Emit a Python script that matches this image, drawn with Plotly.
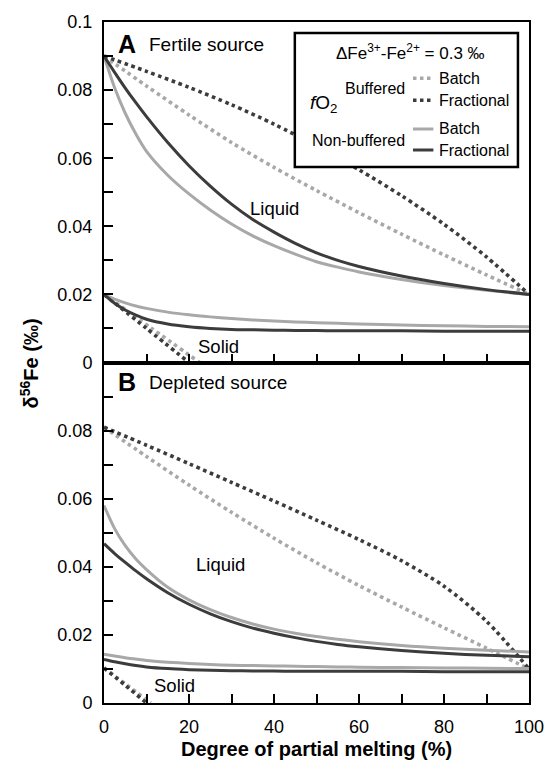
import plotly.graph_objects as go
from plotly.subplots import make_subplots

# ---------------- data ----------------
melt_fine = [0, 2.5, 5, 7.5, 10, 15, 20, 25, 30, 35, 40, 45, 50, 55, 60, 70, 80, 90, 100]
melt_coarse = [0, 10, 20, 30, 40, 50, 60, 70, 80, 90, 100]

# Panel A - fertile source
a_liq_nb_batch = [0.0900, 0.0807, 0.0732, 0.0671, 0.0620, 0.0550, 0.0495, 0.0448, 0.0407, 0.0372,
                  0.0343, 0.0318, 0.0296, 0.0280, 0.0266, 0.0244, 0.0226, 0.0212, 0.0200]
a_liq_nb_frac = [0.0900, 0.0852, 0.0806, 0.0763, 0.0722, 0.0646, 0.0578, 0.0518, 0.0465, 0.0420,
                 0.0383, 0.0350, 0.0322, 0.0300, 0.0282, 0.0254, 0.0232, 0.0214, 0.0200]
a_liq_b_batch = [0.0900, 0.0812, 0.0727, 0.0646, 0.0573, 0.0505, 0.0440, 0.0377, 0.0316, 0.0257, 0.0200]
a_liq_b_frac = [0.0900, 0.0855, 0.0808, 0.0757, 0.0700, 0.0636, 0.0566, 0.0490, 0.0406, 0.0310, 0.0200]
a_sol_nb_batch = [0.0200, 0.0186, 0.0175, 0.0166, 0.0159, 0.0148, 0.0140, 0.0134, 0.0129, 0.0125,
                  0.0122, 0.0119, 0.0117, 0.0115, 0.0113, 0.0110, 0.0108, 0.0106, 0.0105]
a_sol_nb_frac = [0.0200, 0.0174, 0.0154, 0.0139, 0.0127, 0.0113, 0.0105, 0.0100, 0.0097, 0.0096,
                 0.0095, 0.0094, 0.0094, 0.0093, 0.0093, 0.0093, 0.0092, 0.0092, 0.0092]
a_sol_b_batch_x = [0, 11, 22.5]
a_sol_b_batch = [0.0200, 0.0102, 0.0]
a_sol_b_frac_x = [0, 10, 20]
a_sol_b_frac = [0.0200, 0.0100, 0.0]

# Panel B - depleted source
b_liq_nb_batch = [0.0580, 0.0512, 0.0462, 0.0423, 0.0392, 0.0340, 0.0303, 0.0274, 0.0251, 0.0232,
                  0.0217, 0.0205, 0.0195, 0.0187, 0.0180, 0.0169, 0.0161, 0.0155, 0.0150]
b_liq_nb_frac = [0.0468, 0.0439, 0.0413, 0.0388, 0.0365, 0.0324, 0.0290, 0.0262, 0.0239, 0.0220,
                 0.0205, 0.0192, 0.0181, 0.0172, 0.0165, 0.0154, 0.0146, 0.0140, 0.0136]
b_liq_b_batch = [0.0810, 0.0724, 0.0640, 0.0560, 0.0484, 0.0412, 0.0345, 0.0282, 0.0221, 0.0161, 0.0100]
b_liq_b_frac = [0.0810, 0.0757, 0.0703, 0.0648, 0.0593, 0.0537, 0.0480, 0.0418, 0.0343, 0.0240, 0.0100]
b_sol_nb_batch = [0.0143, 0.0138, 0.0133, 0.0129, 0.0125, 0.0120, 0.0116, 0.0113, 0.0111, 0.0110,
                  0.0109, 0.0108, 0.0107, 0.0106, 0.0105, 0.0104, 0.0103, 0.0102, 0.0101]
b_sol_nb_frac = [0.0128, 0.0121, 0.0115, 0.0110, 0.0106, 0.0101, 0.0098, 0.0096, 0.0095, 0.0094,
                 0.0094, 0.0093, 0.0093, 0.0093, 0.0093, 0.0093, 0.0092, 0.0092, 0.0092]
b_sol_b_batch_x = [0, 5.5, 11]
b_sol_b_batch = [0.0103, 0.0052, 0.0]
b_sol_b_frac_x = [0, 5, 10]
b_sol_b_frac = [0.0103, 0.0052, 0.0]

y_tickvals = [0, 0.01, 0.02, 0.03, 0.04, 0.05, 0.06, 0.07, 0.08, 0.09, 0.1]
y_ticktext_a = ["0", "", "0.02", "", "0.04", "", "0.06", "", "0.08", "", "0.1"]
y_ticktext_b = ["0", "", "0.02", "", "0.04", "", "0.06", "", "0.08", "", ""]
x_tickvals = [0, 10, 20, 30, 40, 50, 60, 70, 80, 90, 100]
x_ticktext = ["0", "", "20", "", "40", "", "60", "", "80", "", "100"]

LIGHT = "#a8a8a8"
DARK = "#3c3c3c"
FONT = "Liberation Sans, Arial, Helvetica, sans-serif"

fig = make_subplots(rows=2, cols=1, shared_xaxes=False, vertical_spacing=0)


def add(x, y, color, dotted, row):
    fig.add_trace(
        go.Scatter(
            x=x, y=y, mode="lines",
            line=dict(color=color, width=3.6 if dotted else 3.0,
                      dash="dot" if dotted else "solid",
                      shape="spline", smoothing=0.8),
            showlegend=False, hoverinfo="skip",
        ),
        row=row, col=1,
    )


# Panel A
add(melt_coarse, a_liq_b_batch, LIGHT, True, 1)
add(melt_coarse, a_liq_b_frac, DARK, True, 1)
add(a_sol_b_batch_x, a_sol_b_batch, LIGHT, True, 1)
add(a_sol_b_frac_x, a_sol_b_frac, DARK, True, 1)
add(melt_fine, a_liq_nb_batch, LIGHT, False, 1)
add(melt_fine, a_liq_nb_frac, DARK, False, 1)
add(melt_fine, a_sol_nb_batch, LIGHT, False, 1)
add(melt_fine, a_sol_nb_frac, DARK, False, 1)

# Panel B
add(melt_coarse, b_liq_b_batch, LIGHT, True, 2)
add(melt_coarse, b_liq_b_frac, DARK, True, 2)
add(b_sol_b_batch_x, b_sol_b_batch, LIGHT, True, 2)
add(b_sol_b_frac_x, b_sol_b_frac, DARK, True, 2)
add(melt_fine, b_liq_nb_batch, LIGHT, False, 2)
add(melt_fine, b_liq_nb_frac, DARK, False, 2)
add(melt_fine, b_sol_nb_batch, LIGHT, False, 2)
add(melt_fine, b_sol_nb_frac, DARK, False, 2)

axis_common = dict(showline=True, linecolor="black", linewidth=2, mirror=True,
                   ticks="inside", ticklen=9, tickwidth=2, tickcolor="black",
                   showgrid=False, zeroline=False,
                   tickfont=dict(family=FONT, size=18, color="black"))

fig.update_layout(
    width=557, height=763,
    margin=dict(l=104, r=28, t=15, b=60),
    plot_bgcolor="white", paper_bgcolor="white",
    font=dict(family=FONT, color="black"),
    xaxis=dict(domain=[0, 1], range=[0, 100], tickmode="array", tickvals=x_tickvals,
               ticktext=x_ticktext, showticklabels=False, anchor="y", **axis_common),
    xaxis2=dict(domain=[0, 1], range=[0, 100], tickmode="array", tickvals=x_tickvals,
                ticktext=x_ticktext, showticklabels=True, anchor="y2",
                ticklabelstandoff=6, **axis_common),
    yaxis=dict(domain=[0.5, 1], range=[0, 0.1], tickmode="array", tickvals=y_tickvals,
               ticktext=y_ticktext_a, anchor="x", ticklabelstandoff=6, **axis_common),
    yaxis2=dict(domain=[0, 0.5], range=[0, 0.1], tickmode="array", tickvals=y_tickvals,
                ticktext=y_ticktext_b, anchor="x2", ticklabelstandoff=6, **axis_common),
)

ann = []


def text(x, y, t, size, xref="x", yref="y", xanchor="center", yanchor="middle", angle=0):
    ann.append(dict(x=x, y=y, xref=xref, yref=yref, text=t, showarrow=False,
                    xanchor=xanchor, yanchor=yanchor, textangle=angle,
                    font=dict(family=FONT, size=size, color="black")))


# Panel labels
text(2.8, 0.0935, "<b>A</b>", 25, xanchor="left")
text(10.1, 0.0935, "Fertile source", 19, xanchor="left")
text(2.8, 0.0942, "<b>B</b>", 25, xref="x2", yref="y2", xanchor="left")
text(10.1, 0.0940, "Depleted source", 19, xref="x2", yref="y2", xanchor="left")
text(40, 0.0452, "Liquid", 18.5)
text(27, 0.0047, "Solid", 18.5)
text(27.3, 0.0408, "Liquid", 18.5, xref="x2", yref="y2")
text(16.5, 0.0050, "Solid", 18.5, xref="x2", yref="y2")

# Axis titles
text(0.5, -0.067, "<b>Degree of partial melting (%)</b>", 20, xref="paper", yref="paper")
text(-0.176, 0.499, "<b>δ<sup>56</sup>Fe (‰)</b>", 20, xref="paper", yref="paper", angle=-90)

# Legend box contents (panel A data coordinates)
shapes = [dict(type="rect", xref="x", yref="y", x0=44.9, x1=97.4, y0=0.0574, y1=0.0968,
               line=dict(color="black", width=2.5), fillcolor="white", layer="above")]
leg_rows = [(0.0835, LIGHT, "dot", "Batch"), (0.0770, DARK, "dot", "Fractional"),
            (0.0686, LIGHT, "solid", "Batch"), (0.0624, DARK, "solid", "Fractional")]
for yy, col, dash, lab in leg_rows:
    shapes.append(dict(type="line", xref="x", yref="y", x0=72.7, x1=77.5, y0=yy, y1=yy,
                       line=dict(color=col, width=3.5 if dash == "dot" else 3, dash=dash),
                       layer="above"))
    text(78.4, yy, lab, 16, xanchor="left")
text(72.0, 0.0913, "ΔFe<sup>3+</sup>-Fe<sup>2+</sup> = 0.3 ‰", 17)
text(71.3, 0.0805, "Buffered", 16, xanchor="right")
text(71.3, 0.0653, "Non-buffered", 16, xanchor="right")
text(48.0, 0.0758, "<i>f</i>O<sub>2</sub>", 19, xanchor="left")

fig.update_layout(annotations=ann, shapes=shapes)
fig.write_html("out.html")
